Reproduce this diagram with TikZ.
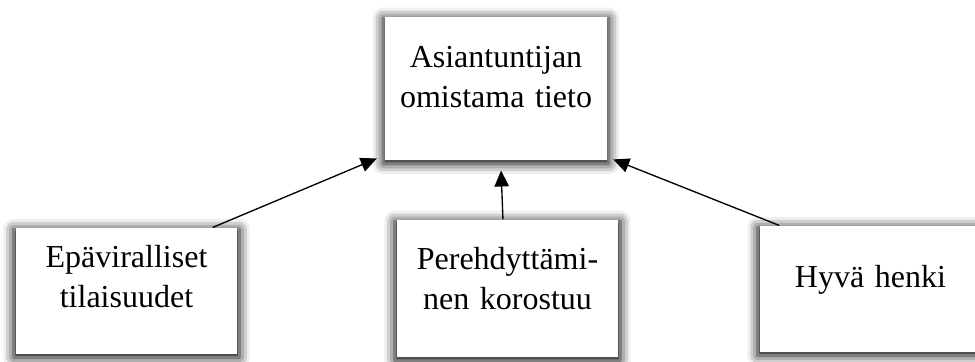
\documentclass[tikz,border=0pt]{standalone}
\usepackage{fontspec}
\setmainfont{Liberation Serif}
\usetikzlibrary{arrows.meta, positioning, shadows.blur}

\begin{document}
\begin{tikzpicture}[
  x=0.375pt, y=-0.375pt,
  %% Text box with soft shadow
  box/.style={
    rectangle, fill=white, draw=none,
    minimum width=83pt, text width=80pt,
    align=center, inner xsep=1.5pt, inner ysep=0pt,
    font=\fontsize{12pt}{15pt}\selectfont,
    blur shadow={shadow xshift=0pt, shadow yshift=-0.9pt,
                 shadow scale=1.02,
                 shadow blur radius=3.8pt, shadow opacity=100}
  },
  %% Connector arrow
  conn/.style={-{Triangle[length=6pt,width=5.4pt]}, line width=0.5pt},
]

\useasboundingbox (0,0) rectangle (975,362);

%% ── Positions ──────────────────────────────────────────────────────────────
\def\yTOP{88.5}

%% ── Top box ────────────────────────────────────────────────────────────────
\node[box, text height=18.75pt, text depth=34.85pt]
  (TIETO) at (496,\yTOP) {Asiantuntijan\\omistama tieto};

%% ── Lower boxes ────────────────────────────────────────────────────────────
\node[box, text height=15pt, text depth=32.25pt]
  (EPA) at (126.5,291) {Epäviralliset\\tilaisuudet};
\node[box, text height=18.75pt, text depth=32.65pt]
  (PER) at (507.5,288.5) {Perehdyttämi-\\nen korostuu};
\node[box, text height=23.25pt, text depth=24pt]
  (HYVA) at (870.5,289) {Hyvä henki};

%% ── Arrows ─────────────────────────────────────────────────────────────────
\draw[conn] ([xshift=-9.4pt]EPA.north east)
  -- ([xshift=-3pt, yshift=0.75pt]TIETO.south west);
\draw[conn] ([xshift=-1.7pt]PER.north)
  -- ([xshift=1.9pt, yshift=-3.75pt]TIETO.south);
\draw[conn] ([xshift=7.5pt]HYVA.north west)
  -- ([xshift=2.25pt, yshift=0.4pt]TIETO.south east);

\end{tikzpicture}
\end{document}
